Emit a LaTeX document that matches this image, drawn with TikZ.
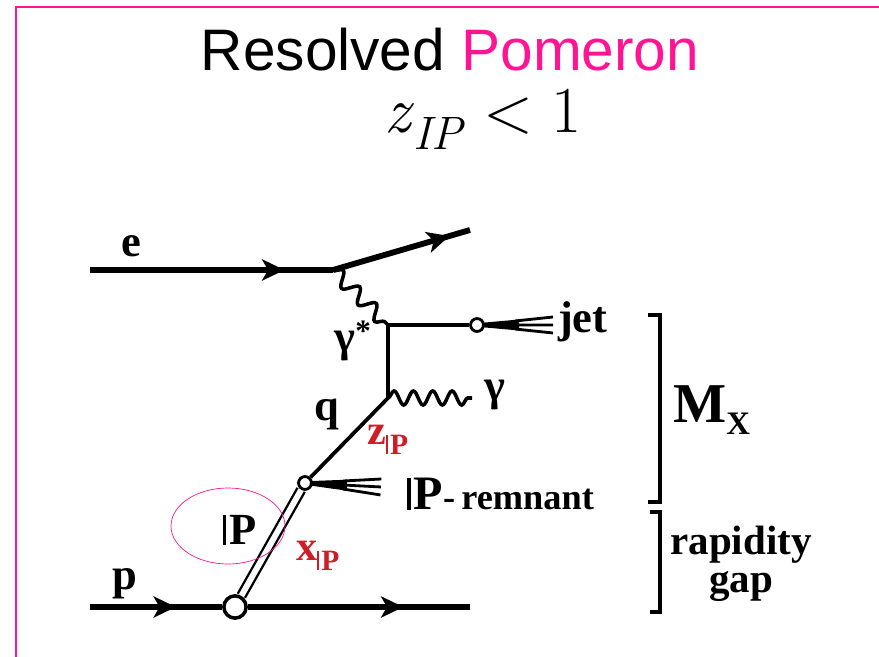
\documentclass[tikz,border=0pt]{standalone}
\usepackage{fontspec}
\setmainfont{Liberation Serif}
\newfontfamily\titlefont{Liberation Sans}
\newfontfamily\lmfont{Latin Modern Roman}
\usetikzlibrary{arrows.meta, decorations.pathmorphing, decorations.markings}
\definecolor{cPink}{RGB}{255,20,147}
\definecolor{cRed}{RGB}{205,30,40}
\newcommand{\pom}{\rule{0.07em}{0.66em}\kern0.07em P}
\tikzset{
	fermion/.style ={line width=5pt},
	midarrow/.style={postaction={decorate, decoration={markings, mark=at position #1 with {\arrow{Stealth[length=19pt, width=18pt, inset=5pt]}}}}},
	quark/.style   ={line width=3.2pt},
	photon/.style  ={line width=3pt, decorate, decoration={snake, amplitude=6pt, segment length=20pt}},
	pomeron/.style ={double, double distance=5pt, line width=2pt},
	blob/.style    ={circle, draw, line width=2.4pt, fill=white, minimum size=11pt, inner sep=0pt},
	bigblob/.style ={circle, draw, line width=3pt, fill=white, minimum size=19pt, inner sep=0pt},
	bracket/.style ={line width=3pt},
	lbl/.style     ={font=\fontsize{38}{42}\selectfont\bfseries},
	redlbl/.style  ={font=\fontsize{36}{40}\selectfont\bfseries, text=cRed},
	spray/.pic={
		\fill (5,-2.2) -- (42,-5.5) -- (42,5.5) -- (5,2.2) -- cycle;
		\draw[line width=2.4pt] (38,-4) -- (76,-8) (38,0) -- (76,0) (38,4) -- (76,8);
	},
}
\begin{document}
\begin{tikzpicture}[x=0.03cm, y=-0.03cm]
	\useasboundingbox (0,0) rectangle (879,657);
	\draw[cPink, line width=1.2pt] (16,657) -- (16,7) -- (879,7);
	% title
	\node[font=\titlefont\fontsize{50}{56}\selectfont, anchor=base, inner sep=0pt] (title) at (450,71) {Resolved \textcolor{cPink}{Pomeron}};
	\node[font=\lmfont\fontsize{56}{60}\selectfont, anchor=base, inner sep=0pt] (cond) at (483,133) {\textit{z}\raisebox{-0.25em}{\fontsize{40}{42}\selectfont\textit{IP}}\hspace{0.28em}<\hspace{0.28em}1};
	% vertices
	\coordinate (ein) at (90,270);
	\coordinate (ev) at (333,270);
	\coordinate (eout) at (470,230);
	\coordinate (gv) at (388,325);
	\coordinate (qv) at (388,398);
	\coordinate (gout) at (472,398);
	\coordinate (pin) at (90,607);
	\coordinate (pout) at (470,607);
	\node[blob] (jv) at (477,325) {};
	\node[blob] (rv) at (305,483) {};
	\node[bigblob] (pv) at (235,607) {};
	% lines
	\draw[fermion, midarrow=0.8] (ein) -- (ev);
	\draw[fermion, midarrow=0.85] (ev) -- (eout);
	\draw[photon] (ev) -- (gv);
	\draw[quark] (gv) -- (jv);
	\draw[quark] (gv) -- (qv);
	\draw[photon, decoration={segment length=16.5pt, amplitude=6pt}] (qv) -- (gout);
	\draw[quark] (qv) -- (rv);
	\draw[pomeron] (rv) -- (pv);
	\draw[fermion, midarrow=0.65] (pin) -- (pv);
	\draw[fermion, midarrow=0.7] (pv) -- (pout);
	\pic at (jv) {spray};
	\pic[rotate=-3] at (rv) {spray};
	\draw[cPink, line width=0.6pt] (228,526) ellipse (57 and 38);
	% labels
	\node[lbl] (elbl) at (131,246) {e};
	\node[lbl] (gslbl) at (353,341) {γ\textsuperscript{*}};
	\node[lbl, anchor=west] (jetlbl) at (554,322) {jet};
	\node[lbl] (glbl) at (495,395) {γ};
	\node[lbl] (qlbl) at (327,415) {q};
	\node[redlbl] (zlbl) at (388,440) {z\textsubscript{\pom}};
	\node[lbl, anchor=west] (remlbl) at (403,494) {\fontsize{41}{44}\selectfont\pom\fontsize{31}{34}\selectfont-\,remnant};
	\node[lbl] (plbl) at (240,530) {\pom};
	\node[redlbl] (xlbl) at (318,556) {x\textsubscript{\pom}};
	\node[lbl] (prlbl) at (125,584) {p};
	% brackets
	\draw[bracket] (648,315) -- (660,315) -- (660,502) -- (648,502);
	\draw[bracket] (650,512) -- (660,512) -- (660,612) -- (650,612);
	\node[font=\fontsize{48}{52}\selectfont\bfseries] (mx) at (712,410) {M\textsubscript{\fontsize{28}{30}\selectfont X}};
	\node[font=\fontsize{35}{32}\selectfont\bfseries, align=center] (gap) at (741,564) {rapidity\\gap};
\end{tikzpicture}
\end{document}
